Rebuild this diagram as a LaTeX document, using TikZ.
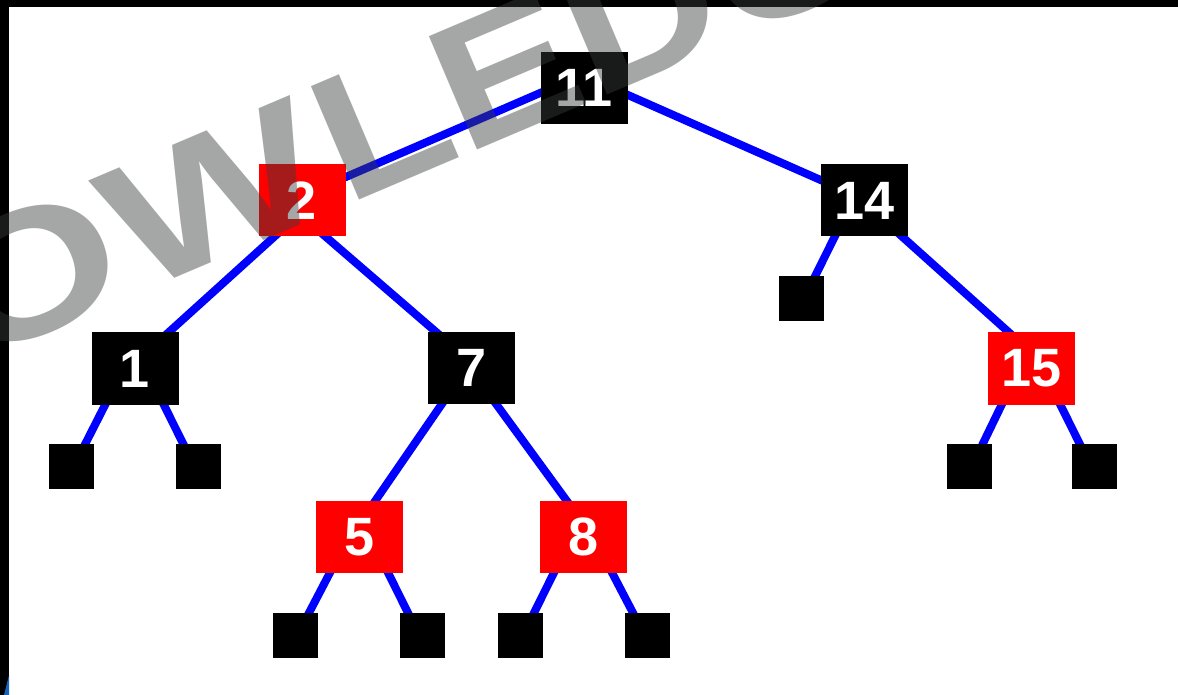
\documentclass[tikz,border=0pt]{standalone}
\usepackage{fontspec}
\setmainfont{Liberation Sans}
\newfontfamily\markfont[FakeStretch=1.18]{Liberation Sans}
\newfontfamily\markwide[FakeStretch=1.3]{Liberation Sans}
\usetikzlibrary{backgrounds}
\definecolor{rbRed}{HTML}{FF0000}
\definecolor{rbBlue}{HTML}{0000FF}
\definecolor{rbInk}{HTML}{000000}
\definecolor{markGray}{HTML}{383C3E}
\definecolor{cornerBlue}{HTML}{1565C0}
\tikzset{
  every picture/.style={font=\bfseries\fontsize{27}{30}\selectfont, text=white},
  rb node/.style={inner sep=0pt, minimum width=43.5pt, minimum height=36pt},
  rb red/.style={rb node, fill=rbRed},
  rb black/.style={rb node, fill=rbInk},
  rb leaf/.style={fill=rbInk, inner sep=0pt, minimum size=22.5pt},
  rb edge/.style={draw=rbBlue, line width=4pt, shorten <=-3pt, shorten >=-3pt},
  rb mark/.style={transform shape, inner sep=0pt,
    text=markGray, text opacity=0.45,
    font=\markfont\bfseries\fontsize{89.5}{100}\selectfont}
}

\begin{document}
\begin{tikzpicture}[x=0.5pt,y=-0.5pt]
  \useasboundingbox (0,0) rectangle (1178,695);
  \clip (0,0) rectangle (1178,695);
  % keys
  \node[rb black] (n11) at (584,88) {11};
  \node[rb red]   (n2)  at (302,200.5) {2};
  \node[rb black] (n14) at (864.5,200.5) {14};
  \node[rb black] (n1)  at (135,368.5) {1};
  \node[rb black] (n7)  at (471.5,368) {7};
  \node[rb red]   (n15) at (1031.5,368.5) {15};
  \node[rb red]   (n5)  at (359.5,537) {5};
  \node[rb red]   (n8)  at (583.5,537) {8};
  % nil leaves
  \node[rb leaf] (l14)  at (801.5,298.5) {};
  \node[rb leaf] (l1a)  at (71.5,466.5) {};
  \node[rb leaf] (l1b)  at (198,466.5) {};
  \node[rb leaf] (l15a) at (969,466.5) {};
  \node[rb leaf] (l15b) at (1094.5,466.5) {};
  \node[rb leaf] (l5a)  at (295.5,635) {};
  \node[rb leaf] (l5b)  at (422.5,635) {};
  \node[rb leaf] (l8a)  at (520.5,635) {};
  \node[rb leaf] (l8b)  at (647.5,635) {};
  \begin{scope}[on background layer]
    \fill[white] (0,0) rectangle (1178,695);
    \draw[rb edge] ([yshift=-2.5pt]n11.west) -- ([yshift=11.75pt]n2.east);
    \draw[rb edge] ([yshift=-3.5pt]n11.east) -- ([yshift=10.25pt]n14.west);
    \draw[rb edge] ([xshift=8pt]n2.south west) -- ([xshift=-5pt]n1.north east);
    \draw[rb edge] ([xshift=-10pt]n2.south east) -- ([xshift=4pt]n7.north west);
    \draw[rb edge] ([xshift=-3pt]n14.south east) -- ([xshift=10.5pt]n15.north west);
    \draw[rb edge] ([xshift=7pt]n7.south west) -- ([xshift=-14pt]n5.north east);
    \draw[rb edge] ([xshift=-9.5pt]n7.south east) -- ([xshift=13.5pt]n8.north west);
    \foreach \p/\c in {n14/l14, n1/l1a, n15/l15a, n5/l5a, n8/l8a}
      \draw[rb edge] ([xshift=7pt]\p.south west) -- ([xshift=-4.5pt]\c.north east);
    \foreach \p/\c in {n1/l1b, n15/l15b, n5/l5b, n8/l8b}
      \draw[rb edge] ([xshift=-7.5pt]\p.south east) -- ([xshift=4pt]\c.north west);
  \end{scope}
  % frame
  \fill[rbInk] (0,0) rectangle (9,695);
  \fill[rbInk] (0,0) rectangle (1178,7);
  \fill[cornerBlue] (9,675) -- (9,695) -- (4,695) -- cycle;
  % watermark
  \begin{scope}[shift={(360,200)}, rotate=23]
    \node[rb mark, anchor=base east, font=\markwide\bfseries\fontsize{89.5}{100}\selectfont]
      (markA) at (-23,0) {KNOW};
    \node[rb mark, anchor=base west] (markB) at (-15.5,0) {LEDGE};
  \end{scope}
\end{tikzpicture}
\end{document}
